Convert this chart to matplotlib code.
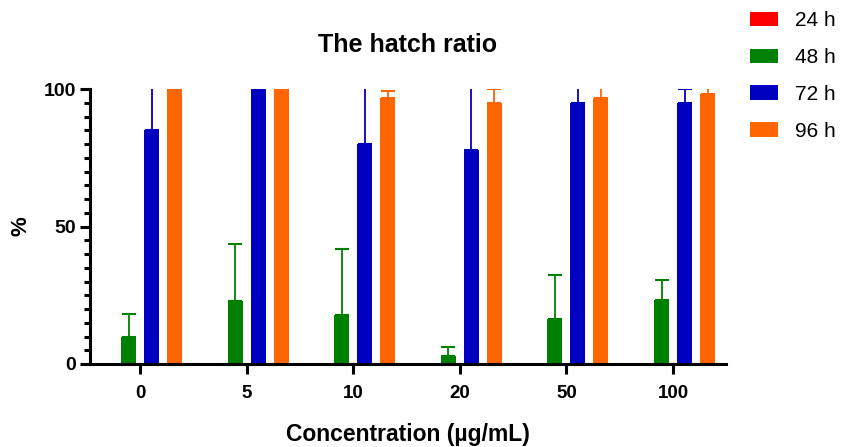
import matplotlib.pyplot as plt
import numpy as np
from matplotlib.ticker import MultipleLocator

plt.rcParams['font.family'] = ['Liberation Sans', 'DejaVu Sans']

# data
concentrations = ["0", "5", "10", "20", "50", "100"]
series_names = ["24 h", "48 h", "72 h", "96 h"]
colors = ["#FF0000", "#008000", "#0000C0", "#FF6600"]

h24 = [0, 0, 0, 0, 0, 0]
h24_err = [0, 0, 0, 0, 0, 0]
h48 = [10, 23, 18, 3, 16.3, 23.3]
h48_err = [8.3, 20.6, 23.7, 3, 16.2, 7.4]
h72 = [85, 100, 80, 78, 95, 95]
h72_err = [20, 0, 25, 26, 6, 5]
h96 = [100, 100, 96.6, 95, 96.6, 98.2]
h96_err = [0, 0, 2.8, 5, 4, 2.5]

values = [h24, h48, h72, h96]
errors = [h24_err, h48_err, h72_err, h96_err]

fig = plt.figure(figsize=(8.43, 4.47), dpi=100)
ax = fig.add_axes([0.1068, 0.1857, 0.7544, 0.615])

x = np.arange(len(concentrations))
width = 0.141
step = 0.216

for i, (vals, errs, col, name) in enumerate(zip(values, errors, colors, series_names)):
    pos = x + (i - 1.5) * step
    ax.bar(pos, vals, width=width, color=col, label=name, zorder=2)
    if any(e > 0 for e in errs):
        ax.errorbar(pos, vals, yerr=[np.zeros(len(errs)), errs], fmt='none',
                    ecolor=col, elinewidth=1.3, capsize=5, capthick=1.5, zorder=3)

ax.set_xlim(-0.469, 5.497)
ax.set_ylim(0, 100)
ax.set_xticks(x)
ax.set_xticklabels(concentrations, fontsize=13.5, fontweight='bold')
ax.set_yticks([0, 50, 100])
ax.set_yticklabels(["0", "50", "100"], fontsize=14, fontweight='bold')
ax.yaxis.set_minor_locator(MultipleLocator(5))

for side in ["top", "right"]:
    ax.spines[side].set_visible(False)
for side in ["left", "bottom"]:
    ax.spines[side].set_linewidth(2.2)

ax.tick_params(axis='y', which='major', length=7, width=2.2, pad=3)
ax.tick_params(axis='y', which='minor', length=4, width=2.2)
ax.tick_params(axis='x', which='major', length=7, width=2.2, pad=8)

ax.set_title("The hatch ratio", fontsize=18, fontweight='bold', pad=27)
ax.set_ylabel("%", fontsize=16, fontweight='bold', labelpad=9)
ax.set_xlabel("Concentration (µg/mL)", fontsize=16.5, fontweight='bold', labelpad=15)

leg = fig.legend(loc='upper left', bbox_to_anchor=(750 / 843, 1 - 11 / 447), frameon=False,
                 fontsize=15, handlelength=1.35, handleheight=0.67,
                 handletextpad=0.8, labelspacing=0.86, borderaxespad=0, borderpad=0)

fig.savefig("out.png", dpi=100)
